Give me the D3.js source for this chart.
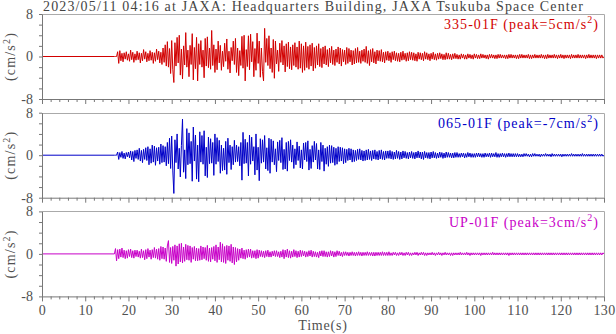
<!DOCTYPE html>
<html><head><meta charset="utf-8">
<script src="https://cdn.jsdelivr.net/npm/d3@7"></script>
<style>
body{margin:0;background:#fff}
svg{display:block}
text{font-family:"Liberation Serif","Times New Roman",serif}
</style>
</head><body>
<svg id="chart" width="616" height="334"></svg>
<script>
// ---------------- data ----------------
const titleText = "2023/05/11 04:16 at JAXA: Headquarters Building, JAXA Tsukuba Space Center";
const channels = ["335-01F", "065-01F", "UP-01F"];
const peaks = [5, -7, 3];
const timeTickLabels = [0, 10, 20, 30, 40, 50, 60, 70, 80, 90, 100, 110, 120, 130];
const accelTickLabels = [-8, 0, 8];
const recordStart = 0;      // s, trace is flat (0) until the first sample
const sampleStart = 16.75;  // s
const sampleStep = 0.25;    // s

const wave335 = [0,
0,0,0.9,-1.3, 1.1,-0.8,0.6,-1.0, 0.7,-0.5,0.9,-0.7, 0.5,-0.9,1.2,-0.6, 0.8,-1.1,0.5,-0.7,
1.0,-0.6,0.7,-1.2, 0.6,-0.8,1.3,-0.5, 0.9,-1.0,0.6,-0.8, 1.1,-0.7,0.8,-1.3, 0.7,-0.9,1.4,-0.6,
1.0,-1.2,0.8,-1.5, 1.6,-1.1,2.2,-1.8, 2.8,-2.0,1.5,-3.2,
3.0,-2.4,-4.9,2.6, -1.8,3.6,-1.2,4.0, -3.5,1.4,-4.2,2.0, -1.6,4.5,-2.0,1.2, -3.8,2.1,-1.5,4.3,
-4.4,1.7,-2.3,3.6, -4.6,2.4,-1.5,3.0, -2.0,1.2,-4.0,3.4, -1.8,3.7,-2.1,1.6, -2.4,4.9,-1.7,2.2,
-3.0,1.4,-2.5,2.9, -1.2,2.1,-2.6,1.0, -1.9,2.5,-0.9,3.3, -2.4,1.0,-3.1,1.7, -0.8,2.9,-1.5,3.4,
-3.0,1.6,-3.6,1.1, -1.7,3.8,-2.2,4.0, -4.6,1.3,-1.9,3.9, -2.5,4.2,-1.0,2.8, -3.8,1.5,-2.6,4.4,
-1.3,2.9,-3.9,1.6, -2.8,-4.6,5.3,-1.1, 3.4,-1.7,3.9,-2.3, 1.6,-3.0,3.2,-4.1, 2.9,-1.4,1.2,-2.8,
2.5,-1.1,3.0,-1.6, 2.0,-2.9,2.4,-1.9,
2.7,-2.3,1.8,-2.5, 2.2,-1.7,2.6,-2.0, 1.8,-2.4,2.9,-2.2, 2.4,-3.0,2.0,-2.6, 2.7,-2.1,1.9,-2.4,
2.2,-1.8,2.5,-2.7, 1.7,-2.2,2.0,-1.6, 2.4,-1.9,1.5,-2.1, 1.8,-1.4,2.0,-1.6, 1.3,-1.9,1.6,-1.2,
1.9,-1.5,1.2,-1.7, 1.4,-1.1,1.8,-1.4, 1.6,-1.8,1.3,-1.0, 1.2,-1.5,1.7,-1.3, 1.5,-1.0,1.2,-1.6,
1.1,-1.4,1.5,-1.2, 1.7,-1.1,1.0,-1.3, 1.2,-0.9,1.4,-1.1, 1.9,-1.3,1.1,-1.7, 1.3,-1.0,1.5,-1.2,
0.9,-1.4,1.2,-0.8, 1.1,-0.9,1.3,-1.0, 0.8,-1.2,0.9,-0.7, 1.0,-0.8,0.7,-1.1, 0.9,-0.6,1.0,-0.8,
0.7,-0.9,0.6,-1.0, 0.8,-0.7,1.0,-0.6, 0.6,-0.9,0.7,-0.8, 0.9,-0.6,0.8,-0.7, 0.7,-0.8,0.5,-0.9,
0.8,-0.5,0.7,-0.6, 0.6,-0.8,0.9,-0.5, 0.7,-0.6,0.5,-0.8, 0.6,-0.5,0.8,-0.6, 0.5,-0.7,0.6,-0.5,
0.7,-0.4,0.5,-0.6, 0.4,-0.6,0.7,-0.5, 0.6,-0.5,0.4,-0.6, 0.5,-0.4,0.6,-0.4, 0.4,-0.5,0.3,-0.5,
0.5,-0.3,0.4,-0.5, 0.3,-0.5,0.5,-0.3, 0.4,-0.4,0.3,-0.5, 0.5,-0.3,0.4,-0.4, 0.3,-0.4,0.5,-0.3,
0.4,-0.3,0.3,-0.4, 0.3,-0.5,0.4,-0.3, 0.4,-0.3,0.3,-0.4, 0.3,-0.4,0.4,-0.3, 0.4,-0.3,0.3,-0.3,
0.3,-0.4,0.3,-0.4, 0.4,-0.3,0.4,-0.3, 0.3,-0.3,0.3,-0.4, 0.3,-0.4,0.4,-0.3, 0.4,-0.3,0.3,-0.3,
0.3,-0.3,0.4,-0.4, 0.3,-0.4,0.3,-0.3, 0.4,-0.3,0.3,-0.3, 0.3,-0.3,0.4,-0.3, 0.3,-0.4,0.3,-0.4,
0.4,-0.3,0.3,-0.3, 0.3,-0.3,0.4,-0.3, 0.3,-0.4,0.3,-0.3, 0.4,-0.3,0.3,-0.4, 0.3,-0.3,0.3,-0.3,
0.3,-0.4,0.4,-0.3, 0.3,-0.3,0.3,-0.3, 0.4,-0.3,0.3,-0.3, 0.3,-0.3,0.3,-0.4, 0.3,-0.3,0.4,-0.3,
0.3,-0.3,0.3,-0.3, 0.3,-0.4,0.3,-0.3, 0.3,-0.3,0.3,-0.3,
0];

const wave065 = [0,
0,0,0.6,-0.8, 0.5,-0.4,0.7,-0.6, 0.4,-0.7,0.5,-0.3, 0.6,-0.5,0.8,-0.9, 0.7,-1.2,0.9,-0.6,
1.0,-0.8,1.3,-1.1, 0.9,-1.4,1.1,-0.8, 1.4,-1.0,1.6,-1.8, 1.2,-1.5,1.9,-1.3, 1.7,-1.9,1.4,-1.1,
1.5,-1.7,2.1,-1.4, 1.8,-1.3,1.6,-2.0, 2.4,-1.6,3.2,-2.5,
3.6,-2.8,-7.2,2.9, -1.4,4.0,-2.6,1.3, -4.1,1.8,6.8,-3.2, 1.0,-4.4,5.0,-1.8, 4.2,-1.6,2.6,-4.9,
5.3,-1.1,3.8,-4.5, 1.9,-5.0,4.4,-1.3, 3.7,-1.7,4.6,-3.9, 1.5,-4.2,3.4,-1.6, 3.1,-1.5,2.4,-3.8,
4.0,-1.7,3.3,-1.2, 2.8,-3.4,1.9,-2.9, 1.3,-2.8,2.6,-3.6, 3.2,-1.4,1.9,-2.7, 1.6,-1.8,2.8,-1.3,
1.9,-1.2,1.6,-2.0, 2.4,-4.7,4.3,-1.6, 3.0,-1.5,2.4,-3.9, 3.8,-1.7,3.4,-1.1, 1.6,-3.7,4.0,-2.8,
1.5,-4.8,3.1,-1.5, 2.9,-1.3,3.7,-2.6, 1.4,-2.9,3.2,-3.4, 3.0,-1.3,2.7,-1.8, 1.2,-3.1,2.5,-1.0,
2.8,-1.4,3.3,-2.7, 1.1,-2.6,2.4,-3.0, 2.6,-1.0,2.9,-1.3, 1.9,-2.5,1.2,-1.8, 2.5,-1.0,1.7,-2.4,
1.0,-2.6,2.3,-0.9, 2.4,-1.2,2.7,-2.8, 1.1,-2.5,1.8,-1.3, 2.6,-0.9,2.2,-2.6, 1.0,-2.7,2.4,-1.2,
1.9,-3.0,1.3,-1.7, 1.6,-2.1,1.9,-1.5,
1.8,-1.4,1.5,-1.9, 1.3,-1.7,1.6,-1.2, 1.5,-1.1,1.4,-1.6, 1.2,-1.4,1.1,-1.0, 1.3,-0.9,1.2,-1.3,
1.0,-1.2,0.9,-1.0, 1.1,-0.8,1.2,-0.9, 0.9,-1.1,0.8,-1.0, 1.0,-0.9,1.1,-0.8, 0.8,-1.0,0.9,-0.7,
1.0,-0.8,0.7,-0.9, 0.9,-0.7,1.0,-0.8, 0.7,-0.9,0.8,-0.6, 0.8,-0.6,0.9,-0.7, 0.7,-0.8,0.6,-0.7,
0.9,-0.6,0.7,-0.8, 0.6,-0.7,0.8,-0.5, 0.7,-0.6,0.5,-0.7, 0.6,-0.5,0.7,-0.6, 0.5,-0.7,0.6,-0.5,
0.8,-0.5,0.6,-0.7, 0.6,-0.8,0.7,-0.5, 0.5,-0.6,0.5,-0.7, 0.6,-0.5,0.7,-0.5, 0.5,-0.6,0.4,-0.5,
0.6,-0.4,0.5,-0.6, 0.4,-0.5,0.6,-0.4, 0.5,-0.4,0.4,-0.5, 0.4,-0.5,0.5,-0.4, 0.5,-0.4,0.3,-0.4,
0.4,-0.3,0.4,-0.5, 0.3,-0.4,0.5,-0.3, 0.4,-0.4,0.3,-0.4, 0.3,-0.4,0.4,-0.3, 0.4,-0.3,0.3,-0.4,
0.3,-0.4,0.4,-0.3, 0.3,-0.3,0.4,-0.4, 0.4,-0.3,0.3,-0.3, 0.5,-0.4,0.3,-0.4, 0.3,-0.3,0.4,-0.3,
0.3,-0.4,0.3,-0.3, 0.4,-0.3,0.3,-0.3, 0.3,-0.3,0.3,-0.3, 0.3,-0.3,0.2,-0.3, 0.2,-0.3,0.3,-0.2,
0.3,-0.2,0.2,-0.3, 0.2,-0.3,0.3,-0.2, 0.3,-0.2,0.2,-0.2, 0.2,-0.3,0.2,-0.2, 0.2,-0.2,0.3,-0.2,
0.2,-0.2,0.2,-0.3, 0.3,-0.2,0.2,-0.2, 0.2,-0.2,0.2,-0.2, 0.2,-0.3,0.2,-0.2, 0.2,-0.2,0.2,-0.2,
0.2,-0.2,0.3,-0.2, 0.2,-0.2,0.2,-0.2, 0.2,-0.2,0.2,-0.2, 0.3,-0.2,0.2,-0.2, 0.2,-0.2,0.2,-0.2,
0.2,-0.2,0.2,-0.2, 0.2,-0.2,0.2,-0.2, 0.2,-0.2,0.2,-0.2,
0];

const waveUP = [0,
1.0,-1.3,0.8,-0.9, 0.9,-0.6,1.1,-0.7, 0.7,-0.9,0.6,-0.8, 0.8,-0.5,0.9,-0.7, 0.6,-0.8,0.7,-0.5,
0.7,-0.6,0.5,-0.8, 0.9,-0.7,0.6,-1.1, 0.8,-0.9,1.0,-0.6, 0.7,-1.0,0.8,-0.7, 1.2,-0.8,0.9,-1.0,
1.0,-1.2,1.4,-0.9, 1.3,-1.0,1.1,-1.4, 1.5,2.5,-1.6,1.2, -1.8,1.4,-1.2,1.7, -2.3,1.5,-1.9,1.9,
-1.5,2.0,-1.7,1.3, -1.4,1.8,-1.1,1.6, -1.2,1.5,-1.6,1.2, -1.0,1.4,-1.3,1.1, -1.3,1.0,-1.2,1.5,
-1.1,1.3,-0.9,1.2, -1.2,1.6,-1.4,1.1, -1.5,1.2,-1.0,1.4, -1.3,1.7,-1.6,1.3, -1.1,2.2,-1.5,1.9,
-1.6,1.4,-1.8,1.6, -1.2,1.5,-1.4,1.8, -1.7,1.3,-2.0,1.2, -1.5,1.0,-1.2,0.9, -0.8,1.1,-0.9,0.7,
-1.0,0.8,-0.7,0.9, -0.6,0.9,-0.8,0.6, -0.7,0.6,-0.9,0.8, -0.8,0.7,-0.5,0.6, -0.6,0.5,-0.7,0.6,
-0.5,0.7,-0.6,0.4, -0.6,0.5,-0.4,0.6, -0.5,0.6,-0.5,0.4, -0.7,0.5,-0.6,0.8, -0.9,0.7,-0.6,0.9,
-0.7,0.6,-0.8,0.5, -0.6,0.8,-0.5,0.6, -0.7,0.5,-0.6,0.7, -0.5,0.6,-0.4,0.5, -0.6,0.4,-0.5,0.6,
-0.4,0.7,-0.6,0.5, -0.5,0.4,-0.6,0.3, -0.7,0.5,-0.4,0.6, -0.5,0.6,-0.5,0.4, -0.6,0.4,-0.5,0.6,
-0.4,0.5,-0.6,0.4, -0.5,0.6,-0.3,0.5, -0.4,0.3,-0.5,0.4, -0.3,0.4,-0.3,0.3, -0.4,0.3,-0.3,0.4,
-0.3,0.3,-0.4,0.3, -0.3,0.4,-0.3,0.3, -0.4,0.3,-0.3,0.3, -0.3,0.4,-0.3,0.3, -0.3,0.3,-0.4,0.3,
-0.4,0.3,-0.3,0.3, -0.3,0.3,-0.3,0.4, -0.3,0.3,-0.3,0.3, -0.3,0.4,-0.3,0.2, -0.3,0.3,-0.2,0.3,
-0.3,0.2,-0.3,0.3, -0.2,0.3,-0.3,0.2, -0.3,0.3,-0.2,0.3, -0.3,0.2,-0.3,0.2, -0.2,0.3,-0.2,0.3,
-0.3,0.2,-0.2,0.3, -0.2,0.3,-0.3,0.2, -0.3,0.2,-0.2,0.2, -0.2,0.3,-0.2,0.2, -0.3,0.2,-0.2,0.3,
-0.2,0.2,-0.3,0.2, -0.2,0.3,-0.2,0.2, -0.2,0.2,-0.3,0.2, -0.3,0.2,-0.2,0.2, -0.2,0.2,-0.2,0.3,
-0.2,0.2,-0.2,0.2, -0.2,0.3,-0.2,0.2, -0.3,0.2,-0.2,0.2, -0.2,0.2,-0.2,0.2, -0.2,0.2,-0.3,0.2,
-0.2,0.2,-0.2,0.2, -0.2,0.2,-0.2,0.2, -0.2,0.3,-0.2,0.2, -0.2,0.2,-0.2,0.2, -0.2,0.2,-0.2,0.2,
-0.2,0.2,-0.2,0.2, -0.3,0.2,-0.2,0.2, -0.2,0.2,-0.2,0.2, -0.2,0.2,-0.2,0.2, -0.2,0.2,-0.2,0.2,
-0.2,0.2,-0.2,0.2, -0.2,0.2,-0.2,0.2, -0.2,0.2,-0.2,0.2, -0.2,0.2,-0.2,0.2, -0.2,0.2,-0.2,0.2,
-0.2,0.2,-0.2,0.2, -0.2,0.2,-0.2,0.2, -0.2,0.2,-0.2,0.2, -0.2,0.2,-0.2,0.2, -0.2,0.2,-0.2,0.2,
-0.2,0.2,-0.2,0.2, -0.2,0.2,-0.2,0.2, -0.2,0.2,-0.2,0.2, -0.2,0.2,-0.2,0.2, -0.2,0.2,-0.2,0.2,
-0.2,0.2,-0.2,0.2, -0.2,0.2,-0.2,0.2, -0.2,0.2,-0.2,0.2,
0];

const waves = [wave335, wave065, waveUP];
const colors = ["#d20000", "#0000c8", "#c800c8"];

// ---------------- layout ----------------
const svg = d3.select("#chart");
const W = 616, H = 334;
const left = 42, right = 604;
const panelTops = [14, 112.7, 211.4];
const panelH = 85;
const labelWidths = [155, 161, 150];
const axisColor = "#777";
const borderColor = "#aaa";
const textColor = "#505050";

svg.append("rect").attr("width", W).attr("height", H).attr("fill", "#fff");

const x = d3.scaleLinear().domain([0, 130]).range([left, right]);

function fitText(sel, width) {
  const node = sel.node();
  const len = node.getComputedTextLength();
  const n = node.textContent.length;
  if (n > 1) sel.attr("letter-spacing", ((width - len) / n).toFixed(3));
}

// title
const title = svg.append("text")
  .attr("x", 43).attr("y", 10.5)
  .attr("font-size", 14).attr("fill", "#444")
  .text(titleText);
fitText(title, 541);

waves.forEach((vals, p) => {
  const top = panelTops[p];
  const y = d3.scaleLinear().domain([-8, 8]).range([top + panelH, top]);
  const g = svg.append("g");

  // trace
  const pts = [[recordStart, 0]].concat(vals.map((v, i) => [sampleStart + i * sampleStep, v]));
  g.append("path")
    .datum(pts)
    .attr("fill", "none")
    .attr("stroke", colors[p])
    .attr("stroke-width", 1)
    .attr("d", d3.line().x(d => x(d[0])).y(d => y(d[1])));

  // top & right border
  g.append("path")
    .attr("d", `M${left},${Math.round(top) + 0.5}H${right + 0.5}V${top + panelH}`)
    .attr("fill", "none").attr("stroke", borderColor).attr("stroke-width", 1);

  // left axis
  const ya = g.append("g")
    .attr("transform", `translate(${left},0)`)
    .call(d3.axisLeft(y).tickValues(d3.range(-8, 9, 2)).tickSize(3).tickSizeOuter(0).tickPadding(6)
      .tickFormat(d => accelTickLabels.includes(d) ? d : ""));
  ya.attr("font-family", null).attr("font-size", null);
  ya.selectAll("path,line").attr("stroke", axisColor);
  ya.selectAll("text").attr("font-size", 14).attr("fill", textColor)
    .attr("font-family", '"Liberation Serif", serif');

  // bottom axis
  const xa = g.append("g")
    .attr("transform", `translate(0,${top + panelH})`)
    .call(d3.axisBottom(x).tickValues(d3.range(0, 131, 2)).tickSize(3).tickSizeOuter(0).tickPadding(6)
      .tickFormat(d => (p === 2 && timeTickLabels.includes(d)) ? d : ""));
  xa.attr("font-family", null).attr("font-size", null);
  xa.selectAll("path,line").attr("stroke", axisColor);
  xa.selectAll(".tick line").attr("y2", d => d % 10 === 0 ? 5 : 3);
  xa.selectAll("text").attr("font-size", 14).attr("fill", textColor)
    .attr("font-family", '"Liberation Serif", serif')
    .attr("letter-spacing", 0.3);

  // y-axis title
  const yl = svg.append("text")
    .attr("transform", `translate(14.5,${y(0)}) rotate(-90)`)
    .attr("text-anchor", "middle")
    .attr("font-size", 14).attr("fill", textColor)
    .attr("letter-spacing", 1.2);
  yl.append("tspan").text("(cm/s");
  yl.append("tspan").attr("font-size", 10).attr("dy", -5).text("2");
  yl.append("tspan").attr("dy", 5).text(")");

  // channel label
  const lab = svg.append("text")
    .attr("x", 599).attr("y", top + 15.3)
    .attr("text-anchor", "end")
    .attr("font-size", 14).attr("fill", colors[p]);
  lab.append("tspan").text(`${channels[p]} (peak=${peaks[p]}cm/s`);
  lab.append("tspan").attr("font-size", 10).attr("dy", -6).text("2");
  lab.append("tspan").attr("dy", 6).text(")");
  fitText(lab, labelWidths[p]);
});

// x-axis title
svg.append("text")
  .attr("x", (left + right) / 2).attr("y", 330)
  .attr("text-anchor", "middle")
  .attr("font-size", 14).attr("fill", textColor)
  .attr("letter-spacing", 0.8)
  .text("Time(s)");
</script>
</body></html>
